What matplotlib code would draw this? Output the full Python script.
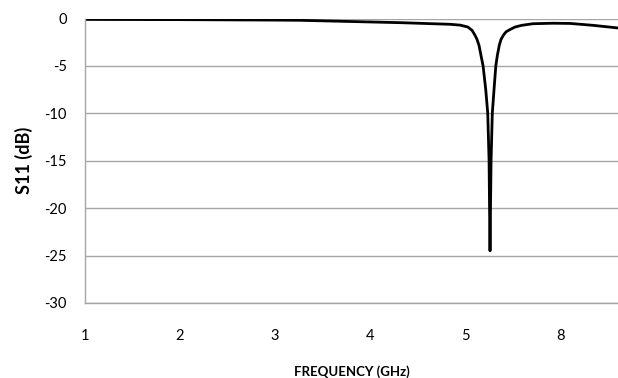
import matplotlib
matplotlib.use("Agg")
import matplotlib.pyplot as plt
import numpy as np

# frequency labels on the (evenly spaced, category-style) x axis
freq_labels = ["1", "2", "3", "4", "5", "8"]

# curve samples: position along the category axis and S11 in dB
pos = [0.0, 1.0, 2.0, 2.26, 3.32, 3.84, 3.95, 4.03, 4.074, 4.105, 4.126, 4.147,
       4.168, 4.19, 4.218, 4.239, 4.253, 4.258, 4.263, 4.268, 4.274, 4.287,
       4.305, 4.324, 4.34, 4.361, 4.379, 4.403, 4.432, 4.474, 4.526, 4.597,
       4.716, 4.926, 5.105, 5.347, 5.61]
s11 = [-0.1, -0.12, -0.17, -0.19, -0.44, -0.61, -0.7, -0.9, -1.25, -1.77, -2.2, -2.83,
       -3.9, -5.0, -7.5, -10.0, -15.0, -20.0, -24.5, -20.0, -15.0, -10.0,
       -7.5, -5.0, -3.9, -2.8, -2.2, -1.77, -1.4, -1.16, -0.9, -0.72,
       -0.55, -0.5, -0.52, -0.72, -1.0]

plt.rcParams['font.family'] = ['Lato', 'DejaVu Sans']
plt.rcParams['axes.unicode_minus'] = False

fig = plt.figure(figsize=(6.18, 3.78), dpi=100)
ax = fig.add_axes([85 / 618, 1 - 303 / 378, 1 - 85 / 618, (303 - 18.5) / 378])

ax.plot(pos, s11, color='black', linewidth=2.0, solid_joinstyle='round')

ax.set_xlim(0, 5.61)
ax.set_ylim(-30, 0)
ax.set_yticks(np.arange(-30, 1, 5))
ax.set_xticks(range(len(freq_labels)))
ax.set_xticklabels(freq_labels)

ax.grid(axis='y', color='#a6a6a6', linewidth=1.0)
ax.set_axisbelow(True)
for side in ['top', 'right']:
    ax.spines[side].set_visible(False)
for side in ['left', 'bottom']:
    ax.spines[side].set_color('#a6a6a6')
    ax.spines[side].set_linewidth(1.0)
ax.tick_params(length=0, labelsize=10.5, colors='black')
ax.tick_params(axis='y', pad=13)
ax.tick_params(axis='x', pad=18.5)

ax.set_xlabel("FREQUENCY (GHz)", fontsize=9.5, fontweight='bold', labelpad=16)
ax.set_ylabel("S11 (dB)", fontsize=13, fontweight='bold', labelpad=8)

fig.savefig("out.png", dpi=100)
